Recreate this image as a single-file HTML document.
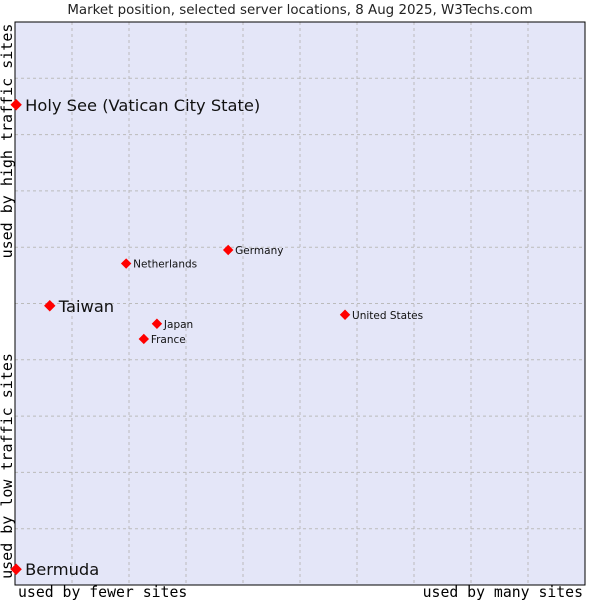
<!DOCTYPE html>
<html><head><meta charset="utf-8"><style>
body{margin:0;background:#fff;width:600px;height:600px;overflow:hidden}
svg{display:block}
</style></head><body>
<svg id="chart" width="600" height="600">
<rect x="0" y="0" width="600" height="600" fill="#fff"/>
<text x="300" y="14" font-family="DejaVu Sans, sans-serif" font-size="13.4" fill="#222" text-anchor="middle">Market position, selected server locations, 8 Aug 2025, W3Techs.com</text>
<rect x="15" y="22" width="570" height="563" fill="#e4e6f8"/>
<g id="grid"></g>
<rect x="15" y="22" width="570" height="563" fill="none" stroke="#000" stroke-width="1"/>
<g id="points"></g>
<text x="18" y="597" font-family="DejaVu Sans Mono, monospace" font-size="14.8" fill="#000">used by fewer sites</text>
<text x="583" y="597" font-family="DejaVu Sans Mono, monospace" font-size="14.8" fill="#000" text-anchor="end">used by many sites</text>
<text transform="translate(12,141) rotate(-90)" font-family="DejaVu Sans Mono, monospace" font-size="15" fill="#000" text-anchor="middle">used by high traffic sites</text>
<text transform="translate(12,466) rotate(-90)" font-family="DejaVu Sans Mono, monospace" font-size="15" fill="#000" text-anchor="middle">used by low traffic sites</text>
</svg>
<script>
const names=["Holy See (Vatican City State)","Bermuda","Taiwan","Netherlands","Germany","Japan","France","United States"];
const xVals=[0.2,0.2,6.1,19.5,37.4,24.9,22.6,57.9];
const yVals=[85.3,2.8,49.6,57.1,59.5,46.4,43.7,48.0];
const bigLabel=[true,true,true,false,false,false,false,false];
const L=15,T=22,W=570,H=563;
const xs=v=>L+v/100*W, ys=v=>T+H-v/100*H;
const NS="http://www.w3.org/2000/svg";
const grid=document.getElementById('grid');
for(let i=1;i<10;i++){
  const v=document.createElementNS(NS,'line');
  v.setAttribute('x1',xs(i*10));v.setAttribute('x2',xs(i*10));v.setAttribute('y1',T);v.setAttribute('y2',T+H);
  v.setAttribute('stroke','#bbb');v.setAttribute('stroke-dasharray','3,3');
  
  
  grid.appendChild(v);
  const h=document.createElementNS(NS,'line');
  h.setAttribute('y1',ys(i*10));h.setAttribute('y2',ys(i*10));h.setAttribute('x1',L);h.setAttribute('x2',L+W);
  h.setAttribute('stroke','#bbb');h.setAttribute('stroke-dasharray','3,3');
  
  
  grid.appendChild(h);
}
const pts=document.getElementById('points');
names.forEach((n,i)=>{
  const x=xs(xVals[i]),y=ys(yVals[i]);
  const g=document.createElementNS(NS,'g');
  
  
  const c=document.createElementNS(NS,'path');
  const r=bigLabel[i]?5:4.5;
  c.setAttribute('d',`M${x-r},${y} L${x},${y-r} L${x+r},${y} L${x},${y+r} Z`);
  c.setAttribute('fill','#f00');
  c.setAttribute('stroke','#f00');c.setAttribute('stroke-width','1');
  
  
  g.appendChild(c);
  const t=document.createElementNS(NS,'text');
  t.setAttribute('x',x+(bigLabel[i]?9:7));
  t.setAttribute('y',y+(bigLabel[i]?6:4));
  t.setAttribute('font-family','DejaVu Sans, sans-serif');
  t.setAttribute('font-size',bigLabel[i]?'16.3':'10.5');
  t.setAttribute('fill','#111');
  t.textContent=n;
  
  
  g.appendChild(t);
  pts.appendChild(g);
});
</script>
</body></html>
